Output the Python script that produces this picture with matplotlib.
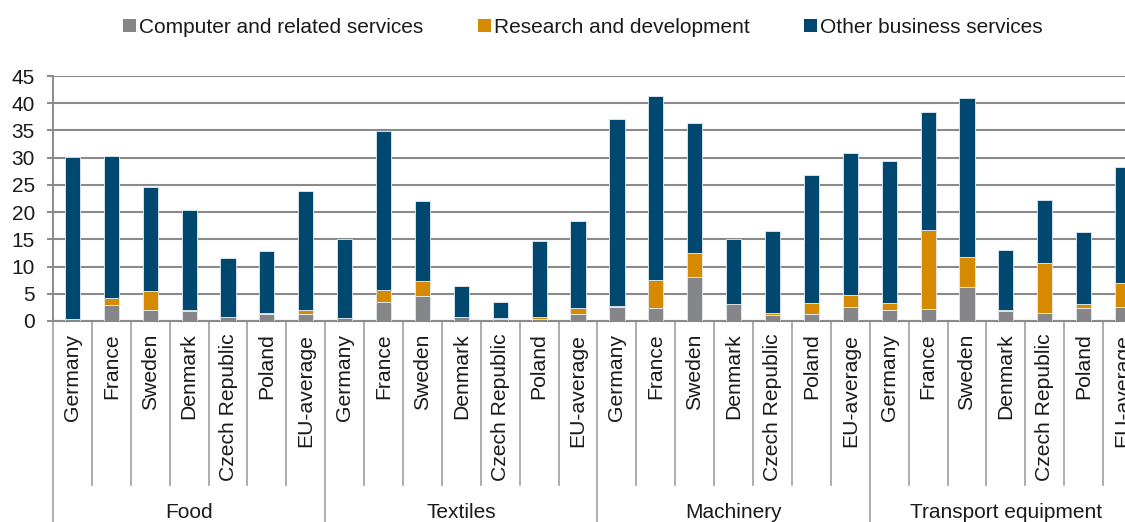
import numpy as np
import matplotlib
matplotlib.use("Agg")
import matplotlib.pyplot as plt
from matplotlib.lines import Line2D
from matplotlib.patches import Patch

plt.rcParams['font.family'] = ['Liberation Sans', 'DejaVu Sans']

# categories
sectors = ["Food", "Textiles", "Machinery", "Transport equipment"]
countries = ["Germany", "France", "Sweden", "Denmark", "Czech Republic", "Poland", "EU-average"]

# series values, 7 countries per sector (Food, Textiles, Machinery, Transport equipment)
computer = [0.4, 2.9, 2.1, 1.9, 0.7, 1.2, 1.3,
            0.55, 3.4, 4.6, 0.7, 0.4, 0.35, 1.3,
            2.6, 2.3, 8.1, 3.05, 1.1, 1.3, 2.6,
            1.95, 2.2, 6.3, 1.85, 1.45, 2.4, 2.6]
research = [0.05, 1.3, 3.5, 0.1, 0.05, 0.3, 0.8,
            0.05, 2.3, 2.8, 0.05, 0.1, 0.35, 1.0,
            0.2, 5.3, 4.4, 0.15, 0.4, 2.0, 2.2,
            1.35, 14.5, 5.5, 0.15, 9.15, 0.8, 4.3]
other = [29.6, 26.1, 19.1, 18.3, 10.75, 11.3, 21.8,
         14.5, 29.2, 14.6, 5.75, 3.0, 14.0, 16.1,
         34.3, 33.8, 23.8, 11.8, 15.1, 23.5, 26.0,
         26.1, 21.6, 29.1, 11.1, 11.6, 13.2, 21.3]

series_names = ["Computer and related services", "Research and development", "Other business services"]
colors = ["#868689", "#d68a00", "#00486f"]

fig = plt.figure(figsize=(11.25, 5.22), dpi=100)
# axes runs past the right edge of the figure, like the original
ax = fig.add_axes([53 / 1125, 201 / 522, 1089 / 1125, 245 / 522])

x = np.arange(len(computer))
bottom = np.zeros(len(x))
for vals, col in zip([computer, research, other], colors):
    ax.bar(x, vals, width=0.39, bottom=bottom, color=col,
           edgecolor="#e4edf2", linewidth=0.6, zorder=3)
    bottom += np.array(vals)

ax.set_xlim(-0.5, len(x) - 0.5)
ax.set_ylim(0, 45)
ax.set_yticks(range(0, 46, 5))
ax.yaxis.grid(True, color="#8a8a8a", linewidth=1.5, zorder=0)
ax.set_axisbelow(True)
for s in ["top", "right"]:
    ax.spines[s].set_visible(False)
ax.spines["left"].set_color("#8a8a8a")
ax.spines["left"].set_linewidth(1.4)
ax.spines["bottom"].set_color("#8a8a8a")
ax.spines["bottom"].set_linewidth(1.5)
ax.tick_params(axis="y", length=4, width=1.4, color="#8a8a8a", pad=9,
               labelsize=15, labelcolor="#1a1a1a")
ax.set_xticks([])

# two-level category axis
trans = ax.get_xaxis_transform()
for i in range(len(x)):
    ax.text(i, -0.052, countries[i % 7], rotation=90, ha="center", va="top",
            fontsize=15.2, color="#1a1a1a", transform=trans)
for b in range(len(x) + 1):
    if b % 7 == 0:
        y_end = -0.83
    else:
        y_end = -0.67
    ax.add_line(Line2D([b - 0.5, b - 0.5], [0, y_end], transform=trans,
                       color="#a0a0a0", linewidth=1.2, clip_on=False))
for g, name in enumerate(sectors):
    ax.text(g * 7 + 3, -0.78, name, ha="center", va="center",
            fontsize=15, color="#1a1a1a", transform=trans)

handles = [Patch(facecolor=c, edgecolor="none") for c in colors]
fig.legend(handles, series_names, loc="center", bbox_to_anchor=(0.518, 0.948),
           ncol=3, frameon=False, fontsize=15, handlelength=0.62,
           handleheight=0.62, handletextpad=0.15, columnspacing=2.6,
           labelcolor="#1a1a1a")

fig.savefig("out.png", dpi=100)
